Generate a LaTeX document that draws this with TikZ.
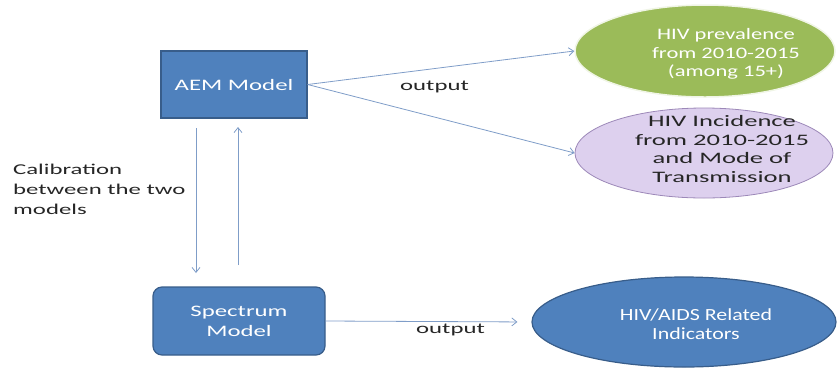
\documentclass[tikz,border=0pt]{standalone}
\usepackage{fontspec}
\setmainfont{Carlito}
\newfontfamily\boxfont[FakeStretch=1.55]{Carlito}
\newfontfamily\labfont[FakeStretch=1.65]{Carlito}
\newfontfamily\greenfont[FakeStretch=1.41]{Carlito}
\newfontfamily\lavfont[FakeStretch=1.66]{Carlito}
\newfontfamily\indfont[FakeStretch=1.29]{Carlito}
\usetikzlibrary{shapes.geometric,arrows.meta}
\definecolor{boxblue}{HTML}{4F81BD}
\definecolor{boxedge}{HTML}{385D8A}
\definecolor{leafgreen}{HTML}{9BBB59}
\definecolor{lavender}{HTML}{DDD0EE}
\definecolor{lavedge}{HTML}{9C88B8}
\definecolor{conn}{HTML}{7F9DC8}
\definecolor{txt}{HTML}{262626}
\tikzset{
  modelbox/.style={draw=boxedge, line width=1.2pt, fill=boxblue, text=white, align=center, font=\boxfont\fontsize{16}{20}\selectfont},
  outell/.style={ellipse, inner sep=0pt},
  elltext/.style={align=center, inner sep=0pt},
  conarrow/.style={draw=conn, line width=0.8pt, -{Straight Barb[length=5pt,width=8pt]}},
  plain/.style={text=txt, font=\labfont\fontsize{15}{20}\selectfont, align=left}
}
\begin{document}
\begin{tikzpicture}[x=1pt,y=-1pt]
\useasboundingbox (0,0) rectangle (839,368);
\node[modelbox, minimum width=146pt, minimum height=67pt] (aem) at (234,84.5) {AEM Model};
\node[modelbox, rounded corners=9pt, minimum width=172pt, minimum height=68pt] (spec) at (239,321) {Spectrum\\Model};
\node[outell, draw=white!85!leafgreen, line width=1.5pt, fill=leafgreen, minimum width=260pt, minimum height=92pt] (prev) at (705,51) {};
\node[outell, draw=lavedge, line width=0.8pt, fill=lavender, minimum width=258pt, minimum height=90pt] (inc) at (704,153) {};
\node[outell, draw=boxedge, line width=1.2pt, fill=boxblue, minimum width=304pt, minimum height=90pt] (ind) at (684,322) {};
\node[elltext, text=white, font=\greenfont\fontsize{16}{18.5}\selectfont] (prevt) at (726,54) {HIV prevalence\\from 2010-2015\\(among 15+)};
\node[elltext, text=txt, font=\lavfont\fontsize{16}{18.5}\selectfont] (inct) at (722,149) {HIV Incidence\\from 2010-2015\\and Mode of\\Transmission};
\node[elltext, text=white, font=\indfont\fontsize{17}{18.5}\selectfont] (indt) at (696,324) {HIV/AIDS Related\\Indicators};
\coordinate (d1) at (196,128);
\coordinate (d2) at (196,273);
\coordinate (u1) at (238,265);
\coordinate (u2) at (238,127);
\draw[conarrow] (aem.east) -- (prev.west);
\draw[conarrow] (aem.east) -- (inc.west);
\draw[conarrow] (d1) -- (d2);
\draw[conarrow] (u1) -- (u2);
\draw[conarrow, shorten >=14pt] (spec.east) -- (ind.west);
\node[plain, anchor=west, inner sep=0pt] (out1) at (400,87) {output};
\node[plain, anchor=west, inner sep=0pt] (out2) at (416,330) {output};
\node[plain, anchor=north west, inner sep=0pt] (cal) at (13,164) {Calibration\\between the two\\models};
\end{tikzpicture}
\end{document}
